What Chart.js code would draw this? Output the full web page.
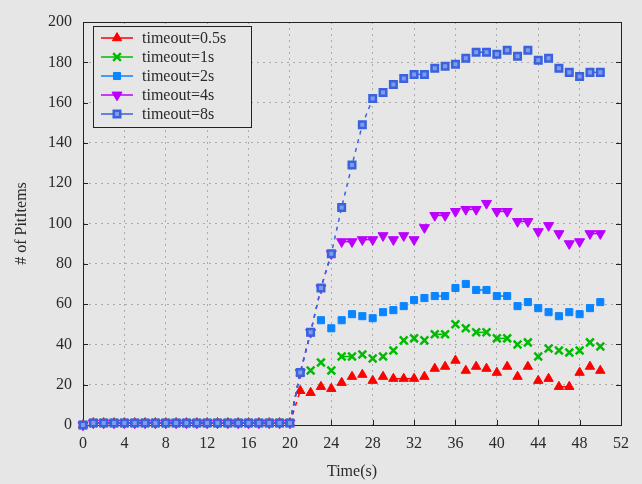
<!DOCTYPE html>
<html>
<head>
<meta charset="utf-8">
<script src="https://cdn.jsdelivr.net/npm/chart.js@4"></script>
<style>
  body { margin: 0; background: #e6e6e6; }
  canvas { display: block; }
</style>
</head>
<body>
<canvas id="chart" width="642" height="484"></canvas>
<script>
// Time (s)
const times = [0, 1, 2, 3, 4, 5, 6, 7, 8, 9, 10, 11, 12, 13, 14, 15, 16, 17, 18, 19, 20,
  21, 22, 23, 24, 25, 26, 27, 28, 29, 30, 31, 32, 33, 34, 35, 36, 37, 38, 39, 40,
  41, 42, 43, 44, 45, 46, 47, 48, 49, 50];

// # of PitItems per timeout
const timeout05 = [0, 1, 1, 1, 1, 1, 1, 1, 1, 1, 1, 1, 1, 1, 1, 1, 1, 1, 1, 1, 1,
  17, 16, 19, 18, 21, 24, 25, 22, 24, 23, 23, 23, 24, 28, 29, 32, 27, 29, 28, 26,
  29, 24, 29, 22, 23, 19, 19, 26, 29, 27];
const timeout1 = [0, 1, 1, 1, 1, 1, 1, 1, 1, 1, 1, 1, 1, 1, 1, 1, 1, 1, 1, 1, 1,
  26, 27, 31, 27, 34, 34, 35, 33, 34, 37, 42, 43, 42, 45, 45, 50, 48, 46, 46, 43,
  43, 40, 41, 34, 38, 37, 36, 37, 41, 39];
const timeout2 = [0, 1, 1, 1, 1, 1, 1, 1, 1, 1, 1, 1, 1, 1, 1, 1, 1, 1, 1, 1, 1,
  26, 46, 52, 48, 52, 55, 54, 53, 56, 57, 59, 62, 63, 64, 64, 68, 70, 67, 67, 64,
  64, 59, 61, 58, 56, 54, 56, 55, 58, 61];
const timeout4 = [0, 1, 1, 1, 1, 1, 1, 1, 1, 1, 1, 1, 1, 1, 1, 1, 1, 1, 1, 1, 1,
  26, 46, 68, 85, 91, 91, 92, 92, 94, 92, 94, 92, 98, 104, 104, 106, 107, 107, 110, 106,
  106, 101, 101, 96, 99, 95, 90, 91, 95, 95];
const timeout8 = [0, 1, 1, 1, 1, 1, 1, 1, 1, 1, 1, 1, 1, 1, 1, 1, 1, 1, 1, 1, 1,
  26, 46, 68, 85, 108, 129, 149, 162, 165, 169, 172, 174, 174, 177, 178, 179, 182, 185, 185, 184,
  186, 183, 186, 181, 182, 177, 175, 173, 175, 175];

const xTicks = [0, 4, 8, 12, 16, 20, 24, 28, 32, 36, 40, 44, 48, 52];
const yTicks = [0, 20, 40, 60, 80, 100, 120, 140, 160, 180, 200];

const BG = '#e6e6e6';
const FONT = { family: 'Liberation Serif', size: 16 };
const TEXT = '#2a2a2a';

function points(values) {
  return times.map((t, i) => ({ x: t, y: values[i] }));
}

// the lines only show where the step is flat or steep
function segStyle(color) {
  return {
    borderColor: c => {
      const d = Math.abs(c.p1.parsed.y - c.p0.parsed.y);
      return (d === 0 || d >= 10) ? color : 'transparent';
    },
    borderDash: c => {
      const d = Math.abs(c.p1.parsed.y - c.p0.parsed.y);
      return d >= 10 ? [4, 5] : undefined;
    }
  };
}

function series(label, values, color, style, extra) {
  return Object.assign({
    label: label,
    data: points(values),
    borderColor: color,
    backgroundColor: color,
    pointBackgroundColor: color,
    pointBorderColor: color,
    pointStyle: style,
    pointRadius: 5,
    pointBorderWidth: 1,
    borderWidth: 1.5,
    clip: false,
    segment: segStyle(color)
  }, extra || {});
}

const datasets = [
  series('timeout=0.5s', timeout05, '#ff0000', 'triangle', { order: 4, pointRadius: 5.4 }),
  series('timeout=1s', timeout1, '#00bb00', 'crossRot', { order: 3, pointRadius: 5.5, pointBorderWidth: 2.5 }),
  series('timeout=2s', timeout2, '#0a84ff', 'rect', { order: 2, pointRadius: 5 }),
  series('timeout=4s', timeout4, '#bb00ff', 'triangle', { order: 1, pointRadius: 5.8, pointRotation: 180 }),
  series('timeout=8s', timeout8, '#3a62dc', 'rect', { order: 0, pointRadius: 4.6, pointBorderWidth: 2.5, pointBackgroundColor: '#7f9cec' })
];

// frame, inward ticks and the boxed legend inside the plot
const framePlugin = {
  id: 'frame',
  beforeDatasetsDraw(chart) {
    const { ctx, chartArea: a, scales } = chart;
    ctx.save();
    ctx.strokeStyle = '#222';
    ctx.lineWidth = 1;
    ctx.beginPath();
    xTicks.forEach(v => {
      const px = Math.round(scales.x.getPixelForValue(v)) + 0.5;
      ctx.moveTo(px, a.bottom);
      ctx.lineTo(px, a.bottom - 5);
    });
    yTicks.forEach(v => {
      const py = Math.round(scales.y.getPixelForValue(v)) + 0.5;
      ctx.moveTo(a.left, py);
      ctx.lineTo(a.left + 5, py);
      ctx.moveTo(a.right, py);
      ctx.lineTo(a.right - 5, py);
    });
    ctx.stroke();
    ctx.strokeRect(Math.round(a.left) + 0.5, Math.round(a.top) + 0.5,
      Math.round(a.right - a.left), Math.round(a.bottom - a.top));
    ctx.restore();
  },
  afterDatasetsDraw(chart) {
    const { ctx } = chart;
    ctx.save();
    // legend
    const lx = 93, ly = 26, lw = 158, lh = 101;
    ctx.fillStyle = BG;
    ctx.fillRect(lx, ly, lw, lh);
    ctx.strokeStyle = '#222';
    ctx.lineWidth = 1;
    ctx.strokeRect(lx + 0.5, ly + 0.5, lw, lh);
    ctx.font = FONT.size + 'px ' + FONT.family;
    ctx.textBaseline = 'middle';
    chart.data.datasets.forEach((ds, i) => {
      const y = 38 + i * 19;
      ctx.strokeStyle = ds.borderColor;
      ctx.lineWidth = 1.5;
      ctx.beginPath();
      ctx.moveTo(101, y);
      ctx.lineTo(133, y);
      ctx.stroke();
      ctx.fillStyle = ds.pointBackgroundColor;
      ctx.strokeStyle = ds.pointBorderColor;
      ctx.lineWidth = ds.pointBorderWidth;
      Chart.helpers.drawPoint(ctx, {
        pointStyle: ds.pointStyle,
        radius: ds.pointRadius,
        rotation: ds.pointRotation || 0,
        borderWidth: ds.pointBorderWidth
      }, 117, y);
      ctx.fillStyle = TEXT;
      ctx.fillText(ds.label, 142, y + 1);
    });
    ctx.restore();
  }
};

const ctx = document.getElementById('chart').getContext('2d');
new Chart(ctx, {
  type: 'line',
  data: { datasets: datasets },
  options: {
    responsive: false,
    animation: false,
    layout: { padding: { left: 0, top: 22, right: 21, bottom: 0 } },
    plugins: {
      legend: { display: false },
      tooltip: { enabled: false }
    },
    scales: {
      x: {
        type: 'linear',
        min: 0,
        max: 52,
        afterFit: s => { s.height = 59; },
        afterBuildTicks: s => { s.ticks = xTicks.map(v => ({ value: v })); },
        ticks: { font: FONT, color: TEXT, padding: 9 },
        grid: { color: '#ababab', drawTicks: false },
        border: { display: false, dash: [2, 4] },
        title: { display: true, text: 'Time(s)', font: FONT, color: TEXT, padding: { top: 0, bottom: 3 } }
      },
      y: {
        min: 0,
        max: 200,
        afterFit: s => { s.width = 83; },
        afterBuildTicks: s => { s.ticks = yTicks.map(v => ({ value: v })); },
        ticks: { font: FONT, color: TEXT, padding: 11 },
        grid: { color: '#ababab', drawTicks: false },
        border: { display: false, dash: [2, 4] },
        title: { display: true, text: '# of PitItems', font: FONT, color: TEXT, padding: { top: 12, bottom: 0 } }
      }
    }
  },
  plugins: [framePlugin]
});
</script>
</body>
</html>
